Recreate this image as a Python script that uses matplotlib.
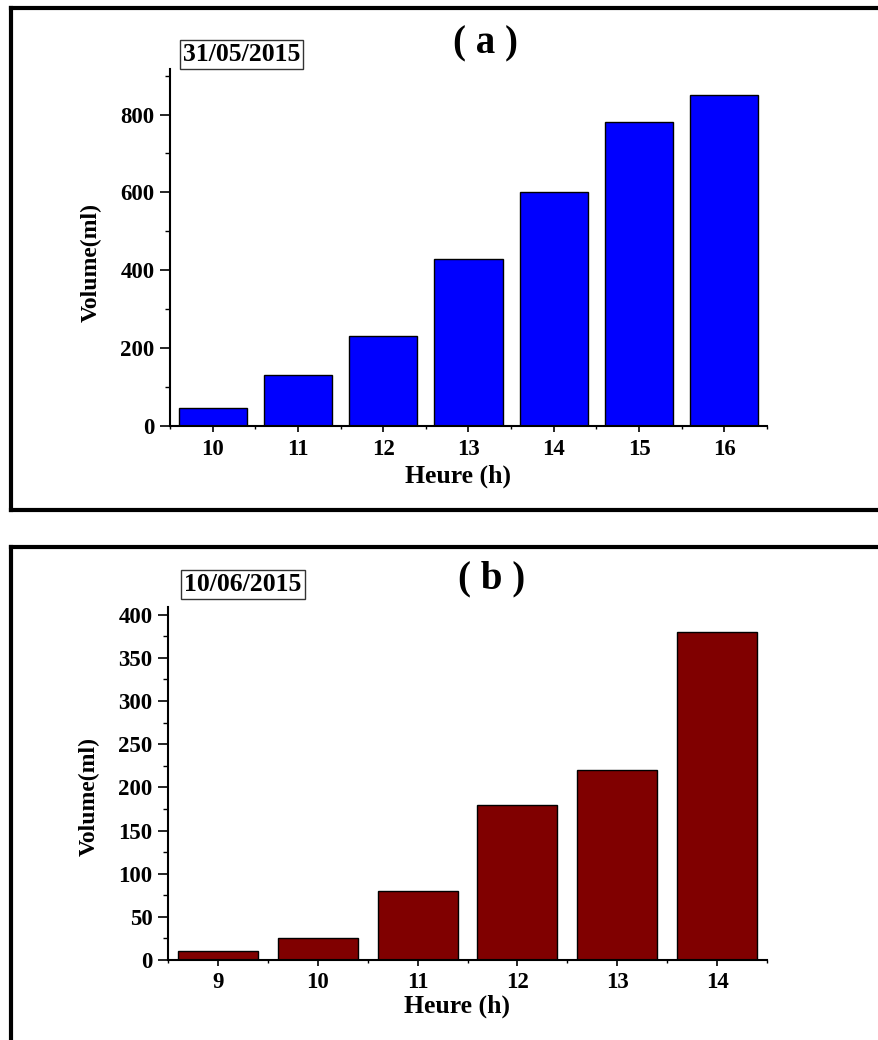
import matplotlib
matplotlib.use("Agg")
import matplotlib.pyplot as plt
from matplotlib.lines import Line2D
from matplotlib.ticker import MultipleLocator

# Data: collected volume per hour on two days
hours_a = [10, 11, 12, 13, 14, 15, 16]
volume_a = [45, 130, 230, 430, 600, 780, 850]
date_a = "31/05/2015"

hours_b = [9, 10, 11, 12, 13, 14]
volume_b = [10, 25, 80, 180, 220, 380]
date_b = "10/06/2015"

xlabel = "Heure (h)"
ylabel = "Volume(ml)"

plt.rcParams["font.family"] = ["Liberation Serif", "DejaVu Serif"]
plt.rcParams["font.weight"] = "bold"

W, H = 879, 1040
fig = plt.figure(figsize=(W / 100, H / 100), dpi=100)


def fx(px):
    return px / W


def fy(py):
    return 1 - py / H


# Panel frames (thick black borders running off the right / bottom edge)
frame_lw = 3.0
fig.add_artist(Line2D([fx(11), fx(11)], [fy(8), fy(510)], color="black", lw=frame_lw, transform=fig.transFigure))
fig.add_artist(Line2D([fx(11), fx(885)], [fy(8), fy(8)], color="black", lw=frame_lw, transform=fig.transFigure))
fig.add_artist(Line2D([fx(11), fx(885)], [fy(510), fy(510)], color="black", lw=frame_lw, transform=fig.transFigure))
fig.add_artist(Line2D([fx(11), fx(11)], [fy(547), fy(1045)], color="black", lw=frame_lw, transform=fig.transFigure))
fig.add_artist(Line2D([fx(11), fx(885)], [fy(547), fy(547)], color="black", lw=frame_lw, transform=fig.transFigure))


def panel(rect, hours, volumes, color, ymax, major, minor, xlab_y, ylab_y, xpad):
    ax = fig.add_axes(rect)
    ax.bar(hours, volumes, width=0.8, color=color, edgecolor="black", linewidth=1.0)
    ax.set_xlim(hours[0] - 0.5, hours[-1] + 0.5)
    ax.set_ylim(0, ymax)
    ax.set_xticks(hours)
    ax.xaxis.set_minor_locator(MultipleLocator(1, offset=0.5))
    ax.yaxis.set_major_locator(MultipleLocator(major))
    ax.yaxis.set_minor_locator(MultipleLocator(minor))
    for s in ("top", "right"):
        ax.spines[s].set_visible(False)
    for s in ("left", "bottom"):
        ax.spines[s].set_linewidth(1.5)
    ax.tick_params(axis="y", which="major", direction="out", length=7, width=1.2, pad=4, labelsize=16.5)
    ax.tick_params(axis="y", which="minor", direction="out", length=3.5, width=1.0)
    ax.tick_params(axis="x", which="major", direction="out", length=4.5, width=1.2, pad=xpad, labelsize=16.5)
    ax.tick_params(axis="x", which="minor", direction="out", length=2.5, width=1.0)
    for lab in ax.get_xticklabels() + ax.get_yticklabels():
        lab.set_fontweight("bold")
    ax.set_xlabel(xlabel, fontsize=18.5, fontweight="bold")
    ax.set_ylabel(ylabel, fontsize=17, fontweight="bold")
    ax.xaxis.set_label_coords(0.482, xlab_y)
    ax.yaxis.set_label_coords(-0.114, ylab_y)
    return ax


ax_a = panel([fx(170), fy(426), fx(767) - fx(170), fy(69) - fy(426)],
             hours_a, volume_a, "#0000FF", 917, 200, 100, -0.108, 0.457, 5)
ax_b = panel([fx(168), fy(960), fx(767) - fx(168), fy(607) - fy(960)],
             hours_b, volume_b, "#800000", 409, 50, 25, -0.097, 0.462, 4)

# Panel titles
fig.text(fx(486), fy(44), "( a )", fontsize=28, fontweight="bold", ha="center", va="center")
fig.text(fx(492), fy(579), "( b )", fontsize=28, fontweight="bold", ha="center", va="center")

# Date boxes
box = dict(boxstyle="square,pad=0.12", facecolor="white", edgecolor="#333333", linewidth=1.0)
fig.text(fx(241.5), fy(54.5), date_a, fontsize=18.5, fontweight="bold", ha="center", va="center", bbox=box)
fig.text(fx(243), fy(584.5), date_b, fontsize=18.5, fontweight="bold", ha="center", va="center", bbox=box)

fig.savefig("out.png", dpi=100)
